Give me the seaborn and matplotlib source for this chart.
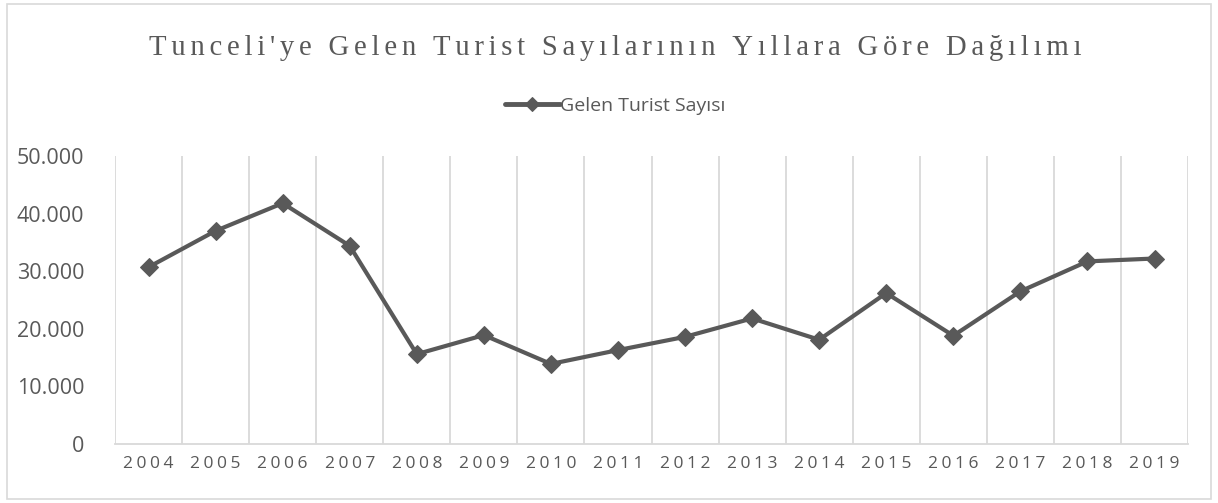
import matplotlib
matplotlib.use("Agg")
import matplotlib.pyplot as plt
import matplotlib.ticker as mticker
import numpy as np
import pandas as pd
import seaborn as sns

years = [str(y) for y in range(2004, 2020)]
visitors = [30700, 37000, 41800, 34400, 15600, 18900, 13900, 16300,
            18600, 21800, 18100, 26200, 18800, 26500, 31700, 32200]

title = "Tunceli'ye Gelen Turist Sayılarının Yıllara Göre Dağılımı"
series_name = "Gelen Turist Sayısı"

GREY = "#595959"
GRID = "#d9d9d9"


def spaced(text, sep="\u200a"):
    # imitate the letter spacing of the original
    return sep.join(text)


sns.set_theme(style="white")
plt.rcParams['font.family'] = ['Open Sans', 'DejaVu Sans']

df = pd.DataFrame({'Yıl': years, series_name: visitors})

fig = plt.figure(figsize=(12.18, 5.03), dpi=100)
ax = fig.add_axes([0.0944, 0.1173, 0.881, 0.5726])

sns.lineplot(data=df, x='Yıl', y=series_name, ax=ax, color=GREY, linewidth=3.0,
             marker='D', markersize=9.5, markeredgecolor=GREY, label=series_name)

ax.set_xlim(-0.5, len(years) - 0.5)
ax.set_ylim(0, 50000)
ax.yaxis.set_major_locator(mticker.MultipleLocator(10000))
ax.yaxis.set_major_formatter(mticker.FuncFormatter(lambda v, p: f"{v:,.0f}".replace(",", ".")))

# vertical grid between categories
ax.set_xticks(np.arange(-0.5, len(years)), minor=True)
ax.grid(which='minor', axis='x', color=GRID, linewidth=1.3)
ax.grid(which='major', visible=False)
ax.set_xticks(range(len(years)))
ax.set_xticklabels([spaced(y, "\u200a\u200a") for y in years])

for s in ['top', 'right', 'left']:
    ax.spines[s].set_visible(False)
ax.spines['bottom'].set_color(GRID)
ax.spines['bottom'].set_linewidth(1.3)

ax.tick_params(axis='x', which='both', length=0, labelsize=12.5, colors=GREY, pad=9)
ax.tick_params(axis='y', length=0, labelsize=15.5, colors=GREY, pad=22)
ax.set_xlabel("")
ax.set_ylabel("")

leg = ax.legend(loc='center', bbox_to_anchor=(0.505, 0.79), bbox_transform=fig.transFigure,
                frameon=False, fontsize=14, handlelength=2.8, handletextpad=0.0)
for t in leg.get_texts():
    t.set_color(GREY)
for h in leg.legend_handles:
    h.set_markersize(7)
    h.set_linewidth(3.5)

fig.text(0.505, 0.905, spaced(title, "\u200a\u200a"), ha='center', va='center', fontsize=20.7,
         color=GREY, family=['Liberation Serif', 'DejaVu Serif'])

fig.patches.append(plt.Rectangle((0.006, 0.008), 0.988, 0.984, transform=fig.transFigure,
                                 fill=False, edgecolor=GRID, linewidth=1.2))

fig.savefig("out.png", dpi=100)
